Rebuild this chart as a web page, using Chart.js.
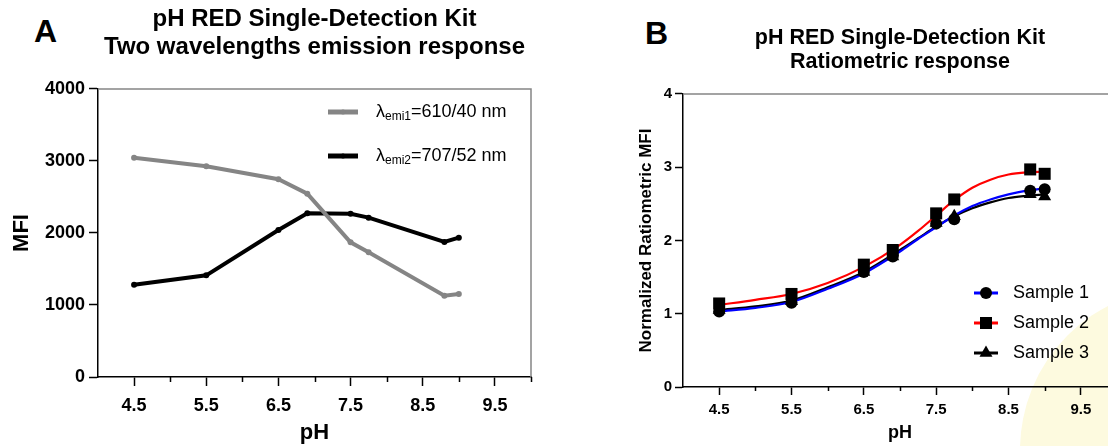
<!DOCTYPE html>
<html>
<head>
<meta charset="utf-8">
<script src="https://cdn.jsdelivr.net/npm/chart.js@4.4.0/dist/chart.umd.min.js"></script>
<style>
  html, body { margin: 0; padding: 0; background: #fff; overflow: hidden; }
  body { width: 1108px; height: 446px; position: relative; font-family: "Liberation Sans", Arial, sans-serif; }
  .panel { position: absolute; top: 0; height: 446px; }
  #panelA { left: 0; width: 554px; }
  #panelB { left: 630px; width: 500px; }
  .letter { position: absolute; font-weight: bold; font-size: 32px; line-height: 32px; }
  #blob { position: absolute; left: 1020px; top: 288px; width: 324px; height: 324px; border-radius: 50%; background: #fdfadf; }
</style>
</head>
<body>
<div id="blob"></div>
<div class="letter" style="left:34px;top:15px">A</div>
<div class="letter" style="left:645px;top:17px">B</div>
<div class="panel" id="panelA"><canvas id="chartA"></canvas></div>
<div class="panel" id="panelB"><canvas id="chartB"></canvas></div>

<script>
// ---------------- data ----------------
const phValues = [4.5, 5.5, 6.5, 6.9, 7.5, 7.75, 8.8, 9.0];
const emi1Values = [3046, 2926, 2746, 2546, 1870, 1731, 1130, 1153];
const emi2Values = [1282, 1412, 2042, 2273, 2268, 2213, 1875, 1935];

const sample1 = [1.03, 1.15, 1.57, 1.78, 2.23, 2.29, 2.68, 2.70];
const sample2 = [1.14, 1.27, 1.67, 1.87, 2.37, 2.56, 2.97, 2.91];
const sample3 = [1.05, 1.17, 1.57, 1.78, 2.24, 2.33, 2.63, 2.60];

// fitted curves
const fitPh = [4.5, 5.0, 5.5, 6.0, 6.5, 7.0, 7.25, 7.5, 7.75, 8.0, 8.25, 8.5, 8.75, 9.0];
const fit1 = [1.03, 1.08, 1.16, 1.34, 1.55, 1.85, 2.02, 2.18, 2.34, 2.47, 2.56, 2.63, 2.68, 2.71];
const fit2 = [1.12, 1.19, 1.27, 1.42, 1.64, 1.94, 2.13, 2.34, 2.55, 2.72, 2.83, 2.90, 2.93, 2.94];
const fit3 = [1.05, 1.10, 1.18, 1.36, 1.57, 1.87, 2.03, 2.19, 2.33, 2.44, 2.52, 2.58, 2.61, 2.63];

const phTicks = [4.5, 5.5, 6.5, 7.5, 8.5, 9.5];
const phMinorTicks = [5, 6, 7, 8, 9, 10];
const mfiTicks = [0, 1000, 2000, 3000, 4000];
const ratioTicks = [0, 1, 2, 3, 4];

const FONT = '"Liberation Sans", Arial, sans-serif';
const GRAY = '#858585';

function pts(xs, ys) {
    return xs.map(function (x, i) { return { x: x, y: ys[i] }; });
}

// top/right frame + minor ticks on the x axis
const frameLines = {
    id: 'frameLines',
    afterDraw(chart, args, opts) {
        const ctx = chart.ctx;
        const a = chart.chartArea;
        const x = chart.scales.x;
        ctx.save();
        ctx.strokeStyle = opts.color;
        ctx.lineWidth = opts.width;
        ctx.beginPath();
        ctx.moveTo(a.left, a.top);
        ctx.lineTo(a.right, a.top);
        ctx.lineTo(a.right, a.bottom);
        ctx.stroke();
        ctx.strokeStyle = '#000';
        ctx.lineWidth = opts.tickWidth;
        ctx.beginPath();
        opts.minor.forEach(function (v) {
            const px = Math.round(x.getPixelForValue(v)) + 0.5;
            ctx.moveTo(px, a.bottom);
            ctx.lineTo(px, a.bottom + opts.minorLength);
        });
        ctx.stroke();
        ctx.restore();
    }
};

// legend with line sample + marker + text (supports subscripts)
const sideLegend = {
    id: 'sideLegend',
    afterDraw(chart, args, opts) {
        const ctx = chart.ctx;
        ctx.save();
        opts.items.forEach(function (it, i) {
            const y = opts.y + i * opts.gap;
            ctx.strokeStyle = it.lineColor;
            ctx.lineWidth = opts.lineWidth;
            ctx.beginPath();
            ctx.moveTo(opts.x, y);
            ctx.lineTo(opts.x + opts.lineLength, y);
            ctx.stroke();
            ctx.fillStyle = it.markerColor;
            ctx.strokeStyle = it.markerColor;
            Chart.helpers.drawPoint(ctx, { pointStyle: it.marker, radius: it.radius, rotation: 0, borderWidth: 0 },
                opts.x + opts.lineLength / 2, y);
            let tx = opts.x + opts.lineLength + opts.textGap;
            ctx.fillStyle = '#000';
            ctx.textBaseline = 'middle';
            ctx.textAlign = 'left';
            it.parts.forEach(function (p) {
                ctx.font = (p.sub ? opts.subSize : opts.size) + 'px ' + FONT;
                ctx.fillText(p.text, tx, y + (p.sub ? opts.subShift : 0));
                tx += ctx.measureText(p.text).width;
            });
        });
        ctx.restore();
    }
};

function axisX(cfg) {
    return {
        type: 'linear', min: 4, max: 10,
        afterBuildTicks: function (s) { s.ticks = phTicks.map(function (v) { return { value: v }; }); },
        afterFit: function (s) { s.height = cfg.height; },
        border: { color: '#000', width: 1.5 },
        grid: { drawOnChartArea: false, color: '#000', tickColor: '#000', tickLength: cfg.tick, tickWidth: 1.5 },
        ticks: { color: '#000', padding: cfg.pad, maxRotation: 0, autoSkip: false,
                 font: { family: FONT, size: cfg.font, weight: 'bold' },
                 callback: function (v) { return v.toFixed(1); } },
        title: { display: true, text: 'pH', color: '#000',
                 font: { family: FONT, size: cfg.titleSize, weight: 'bold' },
                 padding: { top: 0, bottom: cfg.titlePad } }
    };
}

function axisY(cfg) {
    return {
        min: cfg.min, max: cfg.max,
        afterBuildTicks: function (s) { s.ticks = cfg.ticks.map(function (v) { return { value: v }; }); },
        afterFit: function (s) { s.width = cfg.width; },
        border: { color: '#000', width: 1.5 },
        grid: { drawOnChartArea: false, color: '#000', tickColor: '#000', tickLength: cfg.tick, tickWidth: 1.5 },
        ticks: { color: '#000', padding: cfg.pad,
                 font: { family: FONT, size: cfg.font, weight: 'bold' },
                 callback: function (v) { return String(v); } },
        title: { display: true, text: cfg.title, color: '#000',
                 font: { family: FONT, size: cfg.titleSize, weight: 'bold' },
                 padding: { top: cfg.titlePad, bottom: 0 } }
    };
}

// ---------------- panel A ----------------
new Chart(document.getElementById('chartA'), {
    type: 'line',
    data: {
        datasets: [{
            label: 'λemi1=610/40 nm',
            data: pts(phValues, emi1Values),
            borderColor: GRAY, backgroundColor: GRAY,
            borderWidth: 4, pointRadius: 3, pointBorderWidth: 0
        }, {
            label: 'λemi2=707/52 nm',
            data: pts(phValues, emi2Values),
            borderColor: '#000', backgroundColor: '#000',
            borderWidth: 4, pointRadius: 3, pointBorderWidth: 0
        }]
    },
    options: {
        responsive: true, maintainAspectRatio: false, animation: false,
        layout: { padding: { left: 0, right: 23, top: 0, bottom: 0 } },
        plugins: {
            legend: { display: false },
            tooltip: { enabled: false },
            title: {
                display: true, fullSize: false, color: '#000',
                text: ['pH RED Single-Detection Kit', 'Two wavelengths emission response'],
                font: { family: FONT, size: 24, weight: 'bold', lineHeight: 1.17 },
                padding: { top: 5, bottom: 27.8 }
            },
            frameLines: { color: GRAY, width: 1.5, tickWidth: 1.5, minor: phMinorTicks, minorLength: 5 },
            sideLegend: {
                x: 328, y: 112, gap: 44, lineLength: 30, lineWidth: 5, textGap: 18,
                size: 18, subSize: 12, subShift: 5,
                items: [
                    { lineColor: GRAY, markerColor: GRAY, marker: 'circle', radius: 2.5,
                      parts: [{ text: 'λ' }, { text: 'emi1', sub: true }, { text: '=610/40 nm' }] },
                    { lineColor: '#000', markerColor: '#000', marker: 'circle', radius: 2.5,
                      parts: [{ text: 'λ' }, { text: 'emi2', sub: true }, { text: '=707/52 nm' }] }
                ]
            }
        },
        scales: {
            x: axisX({ height: 69, tick: 9, pad: 9, font: 18, titleSize: 22, titlePad: 0 }),
            y: axisY({ min: 0, max: 4000, ticks: mfiTicks, width: 98, tick: 9, pad: 4, font: 18,
                       title: 'MFI', titleSize: 22, titlePad: 9 })
        }
    },
    plugins: [frameLines, sideLegend]
});

// ---------------- panel B ----------------
new Chart(document.getElementById('chartB'), {
    type: 'scatter',
    data: {
        datasets: [
            { label: 'Sample 1', data: pts(phValues, sample1), pointStyle: 'circle', pointRadius: 6,
              backgroundColor: '#000', borderWidth: 0, showLine: false, order: 0 },
            { label: 'Sample 2', data: pts(phValues, sample2), pointStyle: 'rect', pointRadius: 8.5,
              backgroundColor: '#000', borderWidth: 0, showLine: false, order: 0 },
            { label: 'Sample 3', data: pts(phValues, sample3), pointStyle: 'triangle', pointRadius: 7.5,
              backgroundColor: '#000', borderWidth: 0, showLine: false, order: 0 },
            { label: 'fit 1', data: pts(fitPh, fit1), showLine: true, pointRadius: 0, borderColor: '#0000ff',
              borderWidth: 2.2, cubicInterpolationMode: 'monotone', order: 1 },
            { label: 'fit 3', data: pts(fitPh, fit3), showLine: true, pointRadius: 0, borderColor: '#000',
              borderWidth: 2.2, cubicInterpolationMode: 'monotone', order: 2 },
            { label: 'fit 2', data: pts(fitPh, fit2), showLine: true, pointRadius: 0, borderColor: '#ff0000',
              borderWidth: 2.2, cubicInterpolationMode: 'monotone', order: 3 }
        ]
    },
    options: {
        responsive: true, maintainAspectRatio: false, animation: false,
        layout: { padding: { left: 0, right: 13, top: 0, bottom: 0 } },
        plugins: {
            legend: { display: false },
            tooltip: { enabled: false },
            title: {
                display: true, fullSize: false, color: '#000',
                text: ['pH RED Single-Detection Kit', 'Ratiometric response'],
                font: { family: FONT, size: 21.5, weight: 'bold', lineHeight: 1.12 },
                padding: { top: 26, bottom: 19.8 }
            },
            frameLines: { color: GRAY, width: 1.5, tickWidth: 1.5, minor: phMinorTicks, minorLength: 4 },
            sideLegend: {
                x: 974 - 630, y: 293, gap: 30, lineLength: 24, lineWidth: 3, textGap: 15,
                size: 18, subSize: 12, subShift: 5,
                items: [
                    { lineColor: '#0000ff', markerColor: '#000', marker: 'circle', radius: 6, parts: [{ text: 'Sample 1' }] },
                    { lineColor: '#ff0000', markerColor: '#000', marker: 'rect', radius: 8.5, parts: [{ text: 'Sample 2' }] },
                    { lineColor: '#000', markerColor: '#000', marker: 'triangle', radius: 7.5, parts: [{ text: 'Sample 3' }] }
                ]
            }
        },
        scales: {
            x: axisX({ height: 59, tick: 8, pad: 6, font: 15, titleSize: 18, titlePad: 2 }),
            y: axisY({ min: 0, max: 4, ticks: ratioTicks, width: 53, tick: 8, pad: 3, font: 15,
                       title: 'Normalized Ratiometric MFI', titleSize: 17, titlePad: 6 })
        }
    },
    plugins: [frameLines, sideLegend]
});
</script>
</body>
</html>
